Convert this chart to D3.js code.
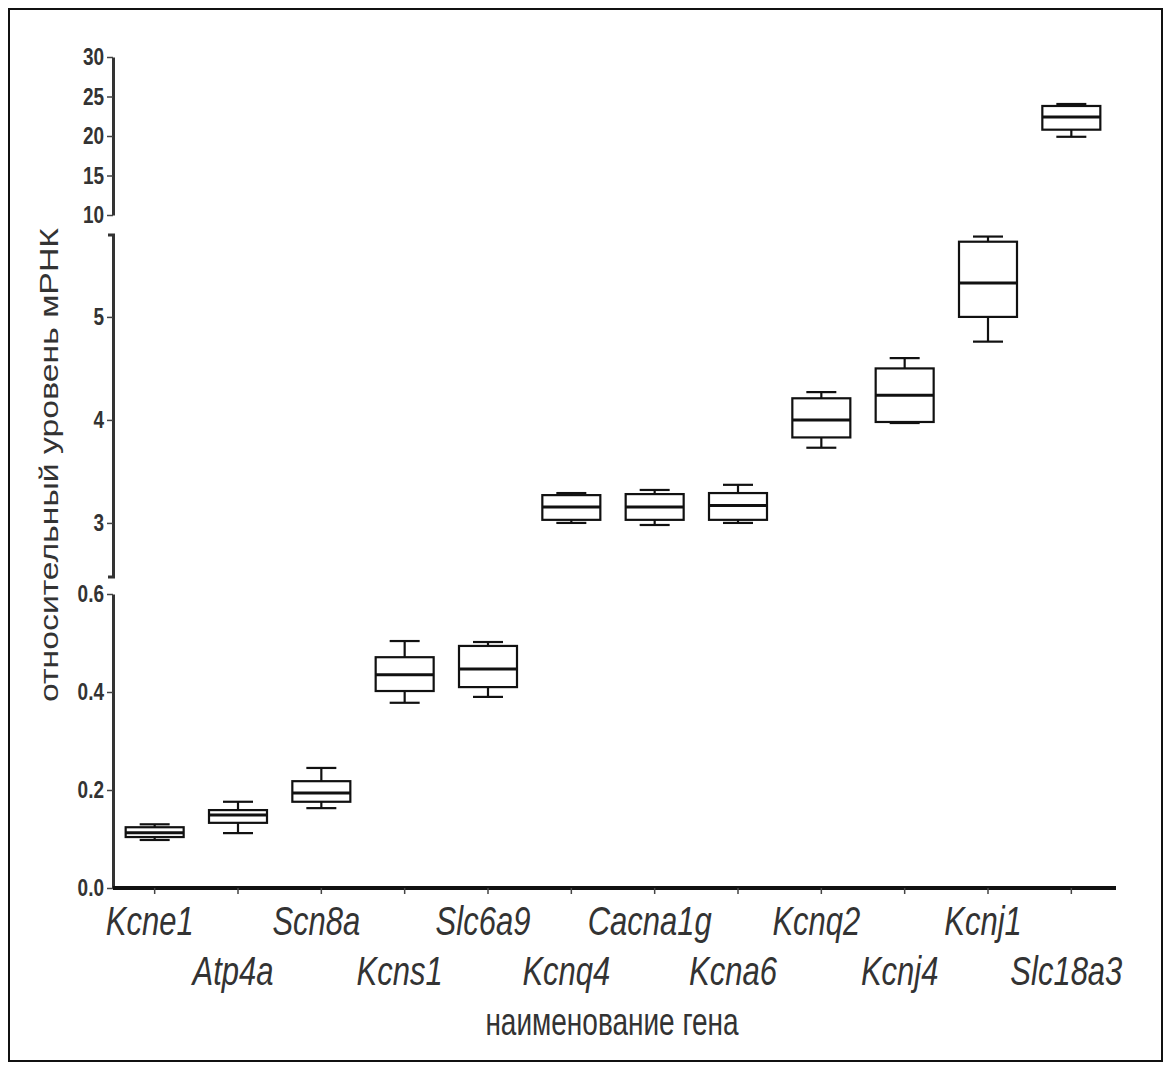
<!DOCTYPE html>
<html>
<head>
<meta charset="utf-8">
<script src="https://cdn.jsdelivr.net/npm/d3@7"></script>
<style>
  body { margin: 0; background: #fff; }
  svg { display: block; }
  text { font-family: "Liberation Sans", Arial, sans-serif; }
</style>
</head>
<body>
<svg id="chart" width="1172" height="1070"></svg>
<script>
// Gene names along the x axis
const genes = ["Kcne1", "Atp4a", "Scn8a", "Kcns1", "Slc6a9", "Kcnq4",
               "Cacna1g", "Kcna6", "Kcnq2", "Kcnj4", "Kcnj1", "Slc18a3"];

// Box-plot statistics for each gene (relative mRNA level)
const whiskerLow  = [0.098, 0.112, 0.163, 0.378, 0.390, 3.00, 2.98, 3.00, 3.73, 3.97, 4.76, 19.9];
const q1          = [0.104, 0.133, 0.176, 0.402, 0.410, 3.03, 3.03, 3.03, 3.83, 3.98, 5.00, 20.8];
const median      = [0.113, 0.149, 0.194, 0.435, 0.447, 3.155, 3.155, 3.17, 4.00, 4.24, 5.33, 22.4];
const q3          = [0.124, 0.159, 0.218, 0.471, 0.494, 3.27, 3.28, 3.29, 4.21, 4.50, 5.73, 23.8];
const whiskerHigh = [0.130, 0.176, 0.245, 0.504, 0.502, 3.29, 3.32, 3.37, 4.27, 4.60, 5.78, 24.05];

// Tick values for the three pieces of the broken y axis
const lowTicks  = [0.0, 0.2, 0.4, 0.6];
const midTicks  = [3, 4, 5];
const highTicks = [10, 15, 20, 25, 30];

const yTitle = "относительный уровень мРНК";
const xTitle = "наименование гена";

const svg = d3.select("#chart");
const ink = "#111";
const textInk = "#333";
const stretch = 1.3;

// frame around the figure
svg.append("rect")
  .attr("x", 9).attr("y", 9).attr("width", 1153).attr("height", 1052)
  .attr("fill", "none").attr("stroke", ink).attr("stroke-width", 2);

const axisX = 113, axisY = 888;

const x = d3.scaleBand().domain(genes).range([axisX, 1113]);
const cx = g => x(g) + x.bandwidth() / 2;

// broken y axis: three linear pieces
const yLow  = d3.scaleLinear().domain([0, 0.6]).range([axisY, 594]);
const yMid  = d3.scaleLinear().domain([2.48, 5.8]).range([576.5, 234.5]);
const yHigh = d3.scaleLinear().domain([10, 30]).range([215, 57]);
const pieceFor = v => v <= 0.6 ? yLow : (v <= 5.8 ? yMid : yHigh);

function drawYAxis(scale, ticks, fmt, outer) {
  const g = svg.append("g")
    .attr("transform", `translate(${axisX},0)`)
    .call(d3.axisLeft(scale).tickValues(ticks).tickFormat(fmt)
      .tickSize(6).tickSizeOuter(outer).tickPadding(3));
  g.select(".domain").attr("stroke", "#333").attr("stroke-width", 3);
  g.selectAll(".tick line").attr("stroke", "#444").attr("stroke-width", 1.5);
  g.selectAll(".tick text")
    .attr("fill", textInk).attr("font-size", 19).attr("font-weight", "bold")
    .attr("transform", `scale(1,${1.25})`)
    .attr("y", function() { return 0; });
  return g;
}
drawYAxis(yLow, lowTicks, d3.format(".1f"), 0);
drawYAxis(yMid, midTicks, d3.format("d"), 5);
drawYAxis(yHigh, highTicks, d3.format("d"), 0);

// x axis
const gx = svg.append("g")
  .attr("transform", `translate(0,${axisY})`)
  .call(d3.axisBottom(x).tickSize(6).tickSizeOuter(0).tickFormat(""));
gx.select(".domain").attr("stroke", ink).attr("stroke-width", 4)
  .attr("d", `M${axisX},0H1116`);
gx.selectAll(".tick line").attr("stroke", "#444").attr("stroke-width", 1.5);

// staggered gene labels
svg.append("g").selectAll("text")
  .data(genes)
  .join("text")
  .attr("transform", (d, i) => `translate(${cx(d) - 5},${i % 2 === 0 ? 935 : 985}) scale(1,1.32)`)
  .attr("text-anchor", "middle")
  .attr("font-size", 31)
  .attr("font-style", "italic")
  .attr("fill", textInk)
  .text(d => d);

// boxes
const boxW = 58, capW = 30;
const boxes = svg.append("g").attr("fill", "none").attr("stroke", ink).attr("stroke-width", 2.2);
genes.forEach((g, i) => {
  const y = pieceFor(median[i]);
  const c = cx(g);
  // whiskers
  boxes.append("line").attr("x1", c).attr("x2", c).attr("y1", y(whiskerHigh[i])).attr("y2", y(q3[i]));
  boxes.append("line").attr("x1", c).attr("x2", c).attr("y1", y(q1[i])).attr("y2", y(whiskerLow[i]));
  boxes.append("line").attr("x1", c - capW / 2).attr("x2", c + capW / 2)
    .attr("y1", y(whiskerHigh[i])).attr("y2", y(whiskerHigh[i]));
  boxes.append("line").attr("x1", c - capW / 2).attr("x2", c + capW / 2)
    .attr("y1", y(whiskerLow[i])).attr("y2", y(whiskerLow[i]));
  // box and median
  boxes.append("rect")
    .attr("x", c - boxW / 2).attr("width", boxW)
    .attr("y", y(q3[i])).attr("height", y(q1[i]) - y(q3[i]))
    .attr("fill", "#fff");
  boxes.append("line").attr("x1", c - boxW / 2).attr("x2", c + boxW / 2)
    .attr("y1", y(median[i])).attr("y2", y(median[i])).attr("stroke-width", 3);
});

// axis titles
svg.append("text")
  .attr("transform", `translate(58,465) scale(1,${stretch}) rotate(-90)`)
  .attr("text-anchor", "middle")
  .attr("font-size", 26)
  .attr("fill", textInk)
  .text(yTitle);

svg.append("text")
  .attr("transform", `translate(612,1035) scale(1,1.4)`)
  .attr("text-anchor", "middle")
  .attr("font-size", 28)
  .attr("fill", textInk)
  .text(xTitle);
</script>
</body>
</html>
